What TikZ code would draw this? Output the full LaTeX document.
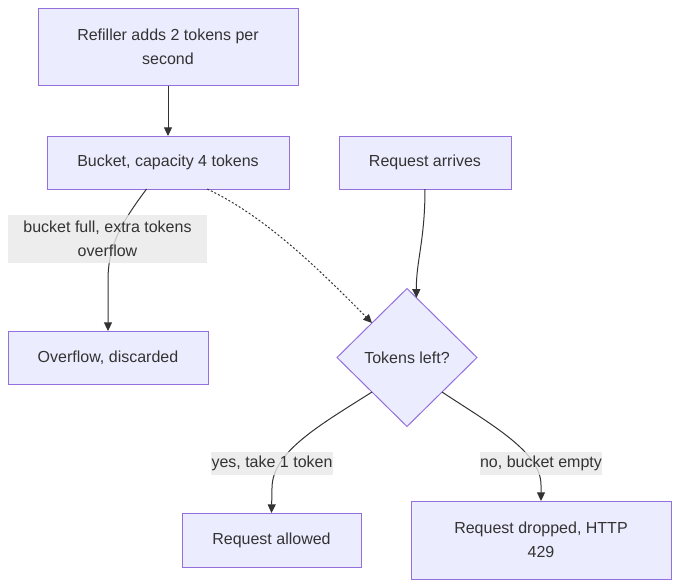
\documentclass[tikz,border=0pt]{standalone}
\usepackage{fontspec}
\setmainfont{Liberation Sans}
\usetikzlibrary{shapes.geometric,arrows.meta}
\definecolor{boxfill}{HTML}{ECECFF}
\definecolor{boxline}{HTML}{9370DB}
\definecolor{ink}{HTML}{333333}
\definecolor{labelgray}{HTML}{E8E8E8}
\tikzset{
  flowbox/.style={rectangle,draw=boxline,fill=boxfill,line width=0.75pt,inner sep=0pt,outer sep=0pt,align=center,text=ink,font=\fontsize{12}{18}\selectfont},
  decision/.style={diamond,draw=boxline,fill=boxfill,line width=0.75pt,inner sep=0pt,outer sep=0pt,align=center,text=ink,font=\fontsize{12}{18}\selectfont,minimum width=105pt,minimum height=103.5pt},
  edgelabel/.style={rectangle,fill=labelgray,fill opacity=0.8,text opacity=1,inner sep=0pt,align=center,text=ink,font=\fontsize{12}{18}\selectfont},
  conn/.style={draw=ink,line width=0.75pt,-{Triangle[length=6.5pt,width=6pt]}},
  dotconn/.style={conn,dash pattern=on 1.5pt off 1.5pt},
}
\begin{document}
\begin{tikzpicture}[x=0.75pt,y=-0.75pt]
\useasboundingbox (0,0) rectangle (679,587);
\node[flowbox,minimum width=195pt,minimum height=57.75pt] (refill) at (168,47) {Refiller adds 2 tokens per\\second};
\node[flowbox,minimum width=181.5pt,minimum height=39.75pt] (bucket) at (168,162.5) {\raisebox{-1pt}{Bucket, capacity 4 tokens}};
\node[flowbox,minimum width=129pt,minimum height=39.75pt] (req) at (425,162.5) {\raisebox{-1pt}{Request arrives}};
\node[flowbox,minimum width=150pt,minimum height=39.75pt] (over) at (108,357.5) {Overflow, discarded};
\node[decision] (tokens) at (407,357.5) {Tokens left?};
\node[flowbox,minimum width=134.25pt,minimum height=40.5pt] (allowed) at (271.5,540) {Request allowed};
\node[flowbox,minimum width=195pt,minimum height=58.5pt] (dropped) at (541,540) {Request dropped, HTTP\\429};

\draw[conn] (refill.south) -- (bucket.north);
\draw[conn] (bucket.231.6) .. controls (122,222) and (108,245) .. (108,280) -- (over.north);
\draw[dotconn] (bucket.326.5) .. controls (262,215) and (312,262) .. (tokens.north west);
\draw[conn] (req.south) .. controls (425,240) and (416,262) .. (tokens.81.5);
\draw[conn] (tokens.south west) .. controls (320,425) and (272,452) .. (272,488) -- (allowed.north);
\draw[conn] (tokens.south east) .. controls (492,425) and (541,452) .. (541,485) -- (dropped.north);

\node[edgelabel,minimum width=149.25pt,minimum height=36pt] (lab1) at (107.5,238.5) {bucket full, extra tokens\\overflow};
\node[edgelabel,minimum width=91.5pt,minimum height=17.25pt] (lab2) at (272,463.5) {yes, take 1 token};
\node[edgelabel,minimum width=91.5pt,minimum height=17.25pt] (lab3) at (541,463.5) {no, bucket empty};
\end{tikzpicture}
\end{document}
